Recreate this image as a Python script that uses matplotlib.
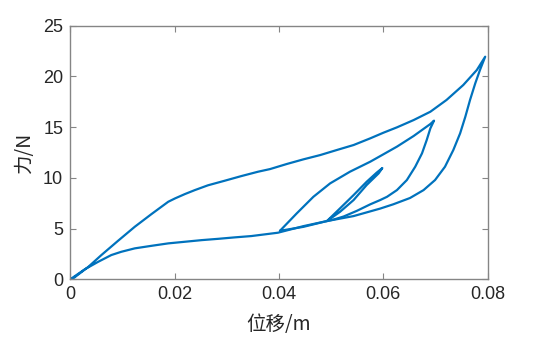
import numpy as np
import matplotlib
matplotlib.use("Agg")
import matplotlib.pyplot as plt

# ── data (displacement m, force N) ─────────────────────────────────────────
# outer loop: loading along the lower branch ...
load_x = [0.0, 0.0028, 0.0054, 0.0079, 0.0098, 0.0124, 0.0156, 0.0188, 0.0220,
          0.0252, 0.0284, 0.0315, 0.0347, 0.0398, 0.0447, 0.0492, 0.0543,
          0.0594, 0.0619, 0.0651, 0.0677, 0.0699, 0.0718, 0.0734, 0.0747,
          0.0757, 0.0766, 0.0776, 0.0785, 0.0795]
load_y = [0.0, 0.99, 1.74, 2.40, 2.72, 3.06, 3.31, 3.55, 3.71,
          3.87, 4.00, 4.14, 4.27, 4.60, 5.25, 5.75, 6.24,
          6.98, 7.40, 8.02, 8.80, 9.79, 11.10, 12.75, 14.39,
          16.03, 17.68, 19.32, 20.63, 21.94]
# ... and unloading along the upper branch
unload_x = [0.0795, 0.0779, 0.0753, 0.0721, 0.0690, 0.0658, 0.0626, 0.0600,
            0.0575, 0.0543, 0.0511, 0.0479, 0.0447, 0.0415, 0.0383, 0.0360,
            0.0328, 0.0296, 0.0264, 0.0239, 0.0220, 0.0201, 0.0188, 0.0156,
            0.0124, 0.0092, 0.0060, 0.0035, 0.0006, 0.0]
unload_y = [21.94, 20.63, 19.15, 17.68, 16.52, 15.70, 14.98, 14.45,
            13.90, 13.24, 12.75, 12.25, 11.83, 11.37, 10.87, 10.61,
            10.18, 9.72, 9.27, 8.80, 8.41, 7.98, 7.65, 6.44,
            5.19, 3.81, 2.40, 1.24, 0.10, 0.0]

# middle loop: 0.04 -> 0.07 -> back to 0.04
mid_x = [0.0402, 0.0434, 0.0466, 0.0498, 0.0536, 0.0575, 0.0594, 0.0626,
         0.0658, 0.0690, 0.0697,
         0.0690, 0.0683, 0.0674, 0.0661, 0.0645, 0.0626, 0.0607, 0.0594,
         0.0575, 0.0549, 0.0524, 0.0505, 0.0492, 0.0447, 0.0402]
mid_y = [4.79, 6.50, 8.14, 9.46, 10.61, 11.60, 12.15, 13.08,
         14.13, 15.31, 15.64,
         14.88, 13.73, 12.42, 11.10, 9.79, 8.80, 8.14, 7.82,
         7.40, 6.75, 6.20, 5.90, 5.75, 5.18, 4.79]

# small loop: 0.05 -> 0.06 -> back to 0.05
small_x = [0.0492, 0.0517, 0.0543, 0.0568, 0.0587, 0.0598,
           0.0591, 0.0568, 0.0543, 0.0517, 0.0492]
small_y = [5.75, 7.00, 8.31, 9.62, 10.51, 10.97,
           10.45, 9.30, 7.82, 6.66, 5.75]

x_ticks = [0, 0.02, 0.04, 0.06, 0.08]
x_tick_labels = ["0", "0.02", "0.04", "0.06", "0.08"]
y_ticks = [0, 5, 10, 15, 20, 25]

LINE = "#0072BD"
AXIS = "#858585"
TEXT = "#262626"

plt.rcParams["font.family"] = ["Liberation Sans", "Noto Sans CJK SC", "DejaVu Sans"]

fig = plt.figure(figsize=(5.39, 3.42), dpi=100, facecolor="white")
ax = fig.add_axes([0.130, 0.183, 0.775, 0.742])

outer_x = load_x + unload_x[1:]
outer_y = load_y + unload_y[1:]
for xs, ys in ((outer_x, outer_y), (mid_x, mid_y), (small_x, small_y)):
    ax.plot(xs, ys, color=LINE, lw=1.6, solid_joinstyle="round",
            solid_capstyle="round")

ax.set_xlim(0, 0.08)
ax.set_ylim(0, 25)
ax.set_xticks(x_ticks)
ax.set_xticklabels(x_tick_labels)
ax.set_yticks(y_ticks)

for s in ax.spines.values():
    s.set_color(AXIS)
    s.set_linewidth(1.0)
ax.tick_params(direction="in", length=4, width=0.8, color=AXIS,
               labelcolor=TEXT, labelsize=13, top=True, right=True, pad=5)

ax.set_xlabel("位移/m", fontsize=14, color=TEXT,
              family=["Noto Sans CJK SC", "Liberation Sans"], labelpad=8)
ax.set_ylabel("力/N", fontsize=14, color=TEXT,
              family=["Noto Sans CJK SC", "Liberation Sans"], labelpad=6)

fig.savefig("out.png", dpi=100, facecolor="white")
